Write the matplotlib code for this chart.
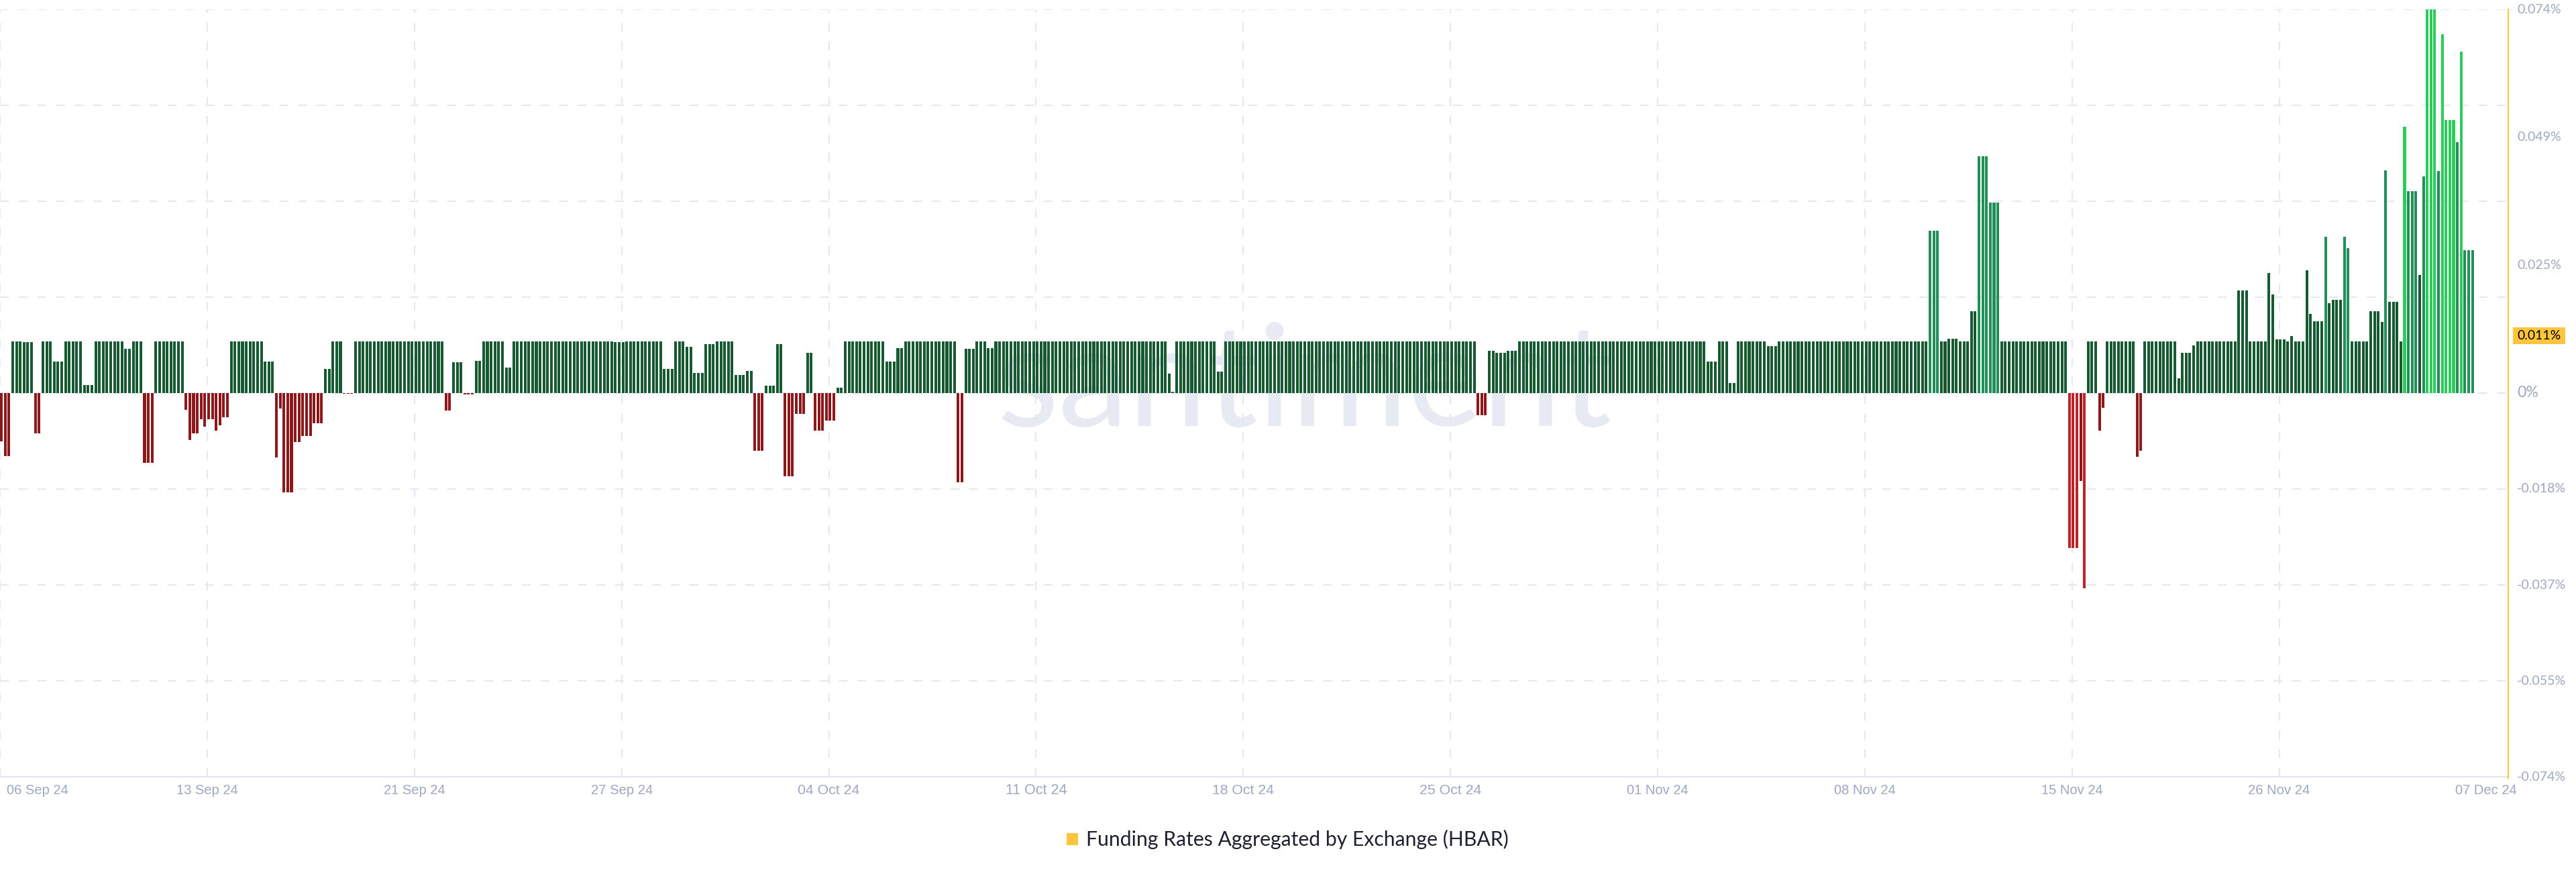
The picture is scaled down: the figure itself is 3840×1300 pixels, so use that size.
import matplotlib
matplotlib.use("Agg")
import matplotlib.pyplot as plt
from matplotlib import font_manager
from matplotlib.patches import Rectangle
from matplotlib.lines import Line2D
import numpy as np

# ------------------------------------------------------------------ data
series_name = "Funding Rates Aggregated by Exchange (HBAR)"
x_tick_labels = ["06 Sep 24", "13 Sep 24", "21 Sep 24", "27 Sep 24", "04 Oct 24",
                 "11 Oct 24", "18 Oct 24", "25 Oct 24", "01 Nov 24", "08 Nov 24",
                 "15 Nov 24", "26 Nov 24", "07 Dec 24"]
y_tick_labels = ["0.074%", "0.049%", "0.025%", "0%", "-0.018%", "-0.037%", "-0.055%", "-0.074%"]
y_tick_values = [0.074, 0.0493, 0.0247, 0.0, -0.0185, -0.037, -0.0555, -0.074]
latest_label = "0.011%"
latest_value = 0.011

# funding rate (%) per interval, left to right
rates_seg01 = [
    -0.0093, -0.0121, -0.0121, 0.0100, 0.0100, 0.0100, 0.0098, 0.0098, 0.0098, -0.0077,
    -0.0077, 0.0100, 0.0100, 0.0100, 0.0061, 0.0061, 0.0061, 0.0100, 0.0100, 0.0100,
    0.0100, 0.0100, 0.0015, 0.0015, 0.0015, 0.0100, 0.0100, 0.0100, 0.0100, 0.0100,
    0.0100, 0.0100, 0.0100, 0.0086, 0.0086, 0.0100, 0.0100, 0.0100, -0.0134, -0.0134,
    -0.0134, 0.0100, 0.0100, 0.0100, 0.0100, 0.0100, 0.0100, 0.0100, 0.0100, -0.0032,
    -0.0090, -0.0077, -0.0077, -0.0051, -0.0065]
rates_seg02 = [
    -0.0051, -0.0051, -0.0072, -0.0062, -0.0047, -0.0047, 0.0100, 0.0100, 0.0100, 0.0100,
    0.0100, 0.0100, 0.0100, 0.0100, 0.0100, 0.0061, 0.0061, 0.0061, -0.0124, -0.0030,
    -0.0191, -0.0191, -0.0191, -0.0094, -0.0094, -0.0083, -0.0083, -0.0083, -0.0058, -0.0058,
    -0.0058, 0.0047, 0.0047, 0.0100, 0.0100, 0.0100, -0.0001, -0.0001, -0.0001, 0.0100,
    0.0100, 0.0100, 0.0100, 0.0100, 0.0100, 0.0100, 0.0100, 0.0100, 0.0100, 0.0100,
    0.0100, 0.0100, 0.0100, 0.0100, 0.0100]
rates_seg03 = [
    0.0100, 0.0100, 0.0100, 0.0100, 0.0100, 0.0100, 0.0100, 0.0100, -0.0033, -0.0033,
    0.0060, 0.0060, 0.0060, -0.0003, -0.0003, -0.0003, 0.0062, 0.0062, 0.0100, 0.0100,
    0.0100, 0.0100, 0.0100, 0.0100, 0.0049, 0.0049, 0.0100, 0.0100, 0.0100, 0.0100,
    0.0100, 0.0100, 0.0100, 0.0100, 0.0100, 0.0100, 0.0100, 0.0100, 0.0100, 0.0100,
    0.0100, 0.0100, 0.0100, 0.0100, 0.0100, 0.0100, 0.0100, 0.0100, 0.0100, 0.0100,
    0.0100, 0.0100, 0.0100, 0.0098, 0.0098]
rates_seg04 = [
    0.0098, 0.0100, 0.0100, 0.0100, 0.0100, 0.0100, 0.0100, 0.0100, 0.0100, 0.0100,
    0.0100, 0.0047, 0.0047, 0.0047, 0.0100, 0.0100, 0.0100, 0.0089, 0.0089, 0.0039,
    0.0039, 0.0039, 0.0095, 0.0095, 0.0095, 0.0100, 0.0100, 0.0100, 0.0100, 0.0100,
    0.0035, 0.0035, 0.0035, 0.0043, 0.0043, -0.0111, -0.0111, -0.0111, 0.0014, 0.0014,
    0.0014, 0.0094, 0.0094, -0.0160, -0.0160, -0.0160, -0.0040, -0.0040, -0.0040, 0.0077,
    0.0077, -0.0073, -0.0073, -0.0073, -0.0053]
rates_seg05 = [
    -0.0053, -0.0053, 0.0010, 0.0010, 0.0100, 0.0100, 0.0100, 0.0099, 0.0099, 0.0099,
    0.0100, 0.0100, 0.0100, 0.0100, 0.0100, 0.0061, 0.0061, 0.0061, 0.0087, 0.0087,
    0.0100, 0.0100, 0.0100, 0.0100, 0.0100, 0.0100, 0.0100, 0.0100, 0.0100, 0.0100,
    0.0100, 0.0100, 0.0100, 0.0100, -0.0172, -0.0172, 0.0085, 0.0085, 0.0085, 0.0100,
    0.0100, 0.0100, 0.0087, 0.0087, 0.0100, 0.0100, 0.0100, 0.0100, 0.0100, 0.0100,
    0.0100, 0.0100, 0.0100, 0.0100, 0.0100]
rates_seg06 = [
    0.0100, 0.0100, 0.0100, 0.0100, 0.0100, 0.0100, 0.0100, 0.0100, 0.0100, 0.0100,
    0.0100, 0.0100, 0.0100, 0.0100, 0.0100, 0.0100, 0.0100, 0.0100, 0.0100, 0.0100,
    0.0100, 0.0100, 0.0100, 0.0100, 0.0100, 0.0100, 0.0100, 0.0100, 0.0100, 0.0100,
    0.0100, 0.0100, 0.0100, 0.0100, 0.0100, 0.0037, 0.0002, 0.0100, 0.0100, 0.0100,
    0.0100, 0.0100, 0.0100, 0.0100, 0.0100, 0.0099, 0.0099, 0.0099, 0.0041, 0.0041,
    0.0100, 0.0100, 0.0100, 0.0100, 0.0100]
rates_seg07 = [
    0.0100, 0.0100, 0.0100, 0.0100, 0.0100, 0.0100, 0.0100, 0.0100, 0.0100, 0.0100,
    0.0100, 0.0100, 0.0100, 0.0100, 0.0100, 0.0100, 0.0100, 0.0100, 0.0100, 0.0100,
    0.0100, 0.0100, 0.0100, 0.0100, 0.0100, 0.0100, 0.0100, 0.0100, 0.0100, 0.0100,
    0.0100, 0.0100, 0.0100, 0.0100, 0.0100, 0.0100, 0.0100, 0.0100, 0.0100, 0.0100,
    0.0100, 0.0100, 0.0100, 0.0100, 0.0100, 0.0100, 0.0100, 0.0100, 0.0100, 0.0100,
    0.0100, 0.0100, 0.0100, 0.0100, 0.0100]
rates_seg08 = [
    0.0100, 0.0100, 0.0100, 0.0100, 0.0100, 0.0100, 0.0100, -0.0043, -0.0043, -0.0043,
    0.0081, 0.0081, 0.0077, 0.0077, 0.0077, 0.0081, 0.0081, 0.0081, 0.0100, 0.0100,
    0.0100, 0.0100, 0.0100, 0.0100, 0.0100, 0.0100, 0.0100, 0.0100, 0.0100, 0.0100,
    0.0100, 0.0100, 0.0100, 0.0100, 0.0100, 0.0100, 0.0100, 0.0100, 0.0100, 0.0100,
    0.0100, 0.0100, 0.0100, 0.0100, 0.0100, 0.0100, 0.0100, 0.0100, 0.0100, 0.0100,
    0.0100, 0.0100, 0.0100, 0.0100, 0.0100]
rates_seg09 = [
    0.0100, 0.0100, 0.0100, 0.0100, 0.0100, 0.0100, 0.0100, 0.0100, 0.0100, 0.0100,
    0.0100, 0.0100, 0.0100, 0.0061, 0.0061, 0.0061, 0.0100, 0.0100, 0.0100, 0.0019,
    0.0019, 0.0100, 0.0100, 0.0100, 0.0100, 0.0100, 0.0100, 0.0100, 0.0100, 0.0090,
    0.0090, 0.0090, 0.0100, 0.0100, 0.0100, 0.0100, 0.0100, 0.0100, 0.0100, 0.0100,
    0.0100, 0.0100, 0.0100, 0.0100, 0.0100, 0.0100, 0.0100, 0.0100, 0.0100, 0.0100,
    0.0100, 0.0100, 0.0100, 0.0100, 0.0100]
rates_seg10 = [
    0.0100, 0.0100, 0.0100, 0.0100, 0.0100, 0.0100, 0.0100, 0.0100, 0.0100, 0.0100,
    0.0100, 0.0100, 0.0100, 0.0100, 0.0100, 0.0100, 0.0100, 0.0313, 0.0313, 0.0313,
    0.0100, 0.0100, 0.0105, 0.0105, 0.0105, 0.0100, 0.0100, 0.0100, 0.0158, 0.0158,
    0.0457, 0.0457, 0.0457, 0.0367, 0.0367, 0.0367, 0.0100, 0.0100, 0.0100, 0.0100,
    0.0100, 0.0100, 0.0100, 0.0100, 0.0100, 0.0100, 0.0100, 0.0100, 0.0100, 0.0100,
    0.0100, 0.0100, 0.0100, 0.0100, -0.0299]
rates_seg11 = [
    -0.0299, -0.0299, -0.0169, -0.0376, 0.0100, 0.0100, 0.0100, -0.0073, -0.0028, 0.0100,
    0.0100, 0.0100, 0.0100, 0.0100, 0.0100, 0.0100, 0.0100, -0.0123, -0.0111, 0.0100,
    0.0100, 0.0100, 0.0100, 0.0100, 0.0100, 0.0100, 0.0100, 0.0100, 0.0029, 0.0077,
    0.0077, 0.0077, 0.0092, 0.0100, 0.0100, 0.0100, 0.0100, 0.0100, 0.0100, 0.0100,
    0.0100, 0.0100, 0.0100, 0.0100, 0.0198, 0.0198, 0.0198, 0.0100, 0.0100, 0.0100,
    0.0100, 0.0100, 0.0231, 0.0190, 0.0103]
rates_seg12 = [
    0.0103, 0.0103, 0.0100, 0.0110, 0.0100, 0.0100, 0.0100, 0.0237, 0.0153, 0.0139,
    0.0139, 0.0139, 0.0301, 0.0174, 0.0180, 0.0180, 0.0180, 0.0301, 0.0279, 0.0100,
    0.0100, 0.0100, 0.0100, 0.0100, 0.0158, 0.0158, 0.0158, 0.0137, 0.0429, 0.0176,
    0.0176, 0.0176, 0.0100, 0.0513, 0.0390, 0.0390, 0.0390, 0.0228, 0.0418, 0.0740,
    0.0740, 0.0740, 0.0428, 0.0692, 0.0526, 0.0526, 0.0526, 0.0484, 0.0658, 0.0275,
    0.0275, 0.0275]

funding_rate = np.array(rates_seg01 + rates_seg02 + rates_seg03 + rates_seg04 +
                        rates_seg05 + rates_seg06 + rates_seg07 + rates_seg08 +
                        rates_seg09 + rates_seg10 + rates_seg11 + rates_seg12)

# ------------------------------------------------------------------ style
W, H, DPI = 3840, 1300, 100
C_DARK_GREEN = "#175a32"
C_MID_GREEN = "#218f58"
C_BRIGHT_GREEN = "#2ccb5b"
C_DARK_RED = "#8c181b"
C_BRIGHT_RED = "#bd2429"
C_GRID = "#e6e8f1"
C_AXIS = "#e2e4ee"
C_YELLOW = "#ffc63d"
C_TICK = "#9ea8c2"
C_TEXT = "#1e2130"
C_WATERMARK = "#e7e9f3"

plt.rcParams["lines.scale_dashes"] = False


def has_font(name):
    try:
        font_manager.findfont(font_manager.FontProperties(family=name),
                              fallback_to_default=False)
        return True
    except Exception:
        return False


F_LABEL = "Lato" if has_font("Lato") else "DejaVu Sans"
F_XTICK = "Liberation Sans" if has_font("Liberation Sans") else "DejaVu Sans"
F_MARK = "Lato" if has_font("Lato") else "DejaVu Sans"

# pixel geometry of the plotting area
AX_L, AX_R, AX_T, AX_B = 0.0, 3739.0, 14.0, 1158.0
BAR_X0, BAR_PITCH = 2.15, 5.615          # pixel centre of first bar, bar pitch
GRID_X0, GRID_STEP = 0.14, 308.86         # pixel x of vertical grid lines


def fx(px):
    return px / W


def fy(py):
    return 1.0 - py / H


def px_to_idx(px):
    return (px - BAR_X0) / BAR_PITCH


fig = plt.figure(figsize=(W / DPI, H / DPI), dpi=DPI)
fig.patch.set_facecolor("white")
ax = fig.add_axes([fx(AX_L), fy(AX_B), fx(AX_R - AX_L), (AX_B - AX_T) / H])
ax.set_facecolor("none")
ax.set_xlim(px_to_idx(AX_L), px_to_idx(AX_R))
ax.set_ylim(-0.074, 0.074)
for s in ax.spines.values():
    s.set_visible(False)
ax.set_xticks([])
ax.set_yticks([])

renderer = fig.canvas.get_renderer()


def fitted_text(x, y, s, width_px, family, holder=None, **kw):
    if holder is None:
        t = fig.text(x, y, s, fontsize=20, family=family, **kw)
    else:
        t = holder.text(x, y, s, fontsize=20, family=family,
                        transform=fig.transFigure, **kw)
    w = t.get_window_extent(renderer).width
    t.set_fontsize(20 * width_px / w)
    return t


# watermark (behind the bars)
fitted_text(fx(1945), fy(635), "santiment", 920, F_MARK, holder=ax, color=C_WATERMARK,
            ha="center", va="baseline", zorder=0, fontweight="normal", clip_on=False)

# grid lines
for v in [0.074, 0.0555, 0.037, 0.0185, 0.0, -0.0185, -0.037, -0.0555]:
    ax.axhline(v, color=C_GRID, lw=1.5, linestyle=(0, (9.5, 10.5)), zorder=1)
grid_px = [GRID_X0 + GRID_STEP * m for m in range(12)]
for gp in grid_px:
    ax.axvline(px_to_idx(gp), color=C_GRID, lw=1.5, linestyle=(0, (9.5, 10.5)), zorder=1)

# bars
idx = np.arange(len(funding_rate))
colors = []
for v in funding_rate:
    if v >= 0.05:
        colors.append(C_BRIGHT_GREEN)
    elif v >= 0.025:
        colors.append(C_MID_GREEN)
    elif v >= 0:
        colors.append(C_DARK_GREEN)
    elif v > -0.025:
        colors.append(C_DARK_RED)
    else:
        colors.append(C_BRIGHT_RED)
ax.bar(idx, funding_rate, width=0.72, color=colors, linewidth=0, zorder=3)

# bottom axis line and right yellow axis line
fig.add_artist(Line2D([fx(AX_L), fx(AX_R)], [fy(AX_B), fy(AX_B)], color=C_AXIS, lw=1.5))
fig.add_artist(Line2D([fx(AX_R), fx(AX_R)], [fy(AX_T), fy(AX_B + 2)], color=C_YELLOW, lw=1.5))

# x tick labels
xlab_px = grid_px + [3706.0]
for i, (lab, gp) in enumerate(zip(x_tick_labels, xlab_px)):
    if i == 0:
        fitted_text(fx(10), fy(1179), lab, 92, F_XTICK, color=C_TICK, ha="left", va="center")
    else:
        fitted_text(fx(gp), fy(1179), lab, 92, F_XTICK, color=C_TICK, ha="center", va="center")


def val_to_py(v):
    return AX_T + (0.074 - v) / 0.148 * (AX_B - AX_T)


# y tick labels (right side)
for lab, v in zip(y_tick_labels, y_tick_values):
    target = 66 * len(lab.replace("-", "")) / 6.0 + (7 if lab.startswith("-") else 0)
    if lab == "0%":
        target = 32
    fitted_text(fx(3752), fy(val_to_py(v)), lab, target, F_LABEL, color=C_TICK,
                ha="left", va="center")

# latest value marker
py = val_to_py(latest_value)
fig.add_artist(Rectangle((fx(3746), fy(py + 12.5)), fx(78), 25 / H,
                         facecolor=C_YELLOW, edgecolor="none"))
fitted_text(fx(3752), fy(py), latest_label, 65, F_LABEL, color="black",
            ha="left", va="center")

# legend
fig.add_artist(Rectangle((fx(1590), fy(1260)), fx(17), 18 / H,
                         facecolor=C_YELLOW, edgecolor="none"))
fitted_text(fx(1619), fy(1251), series_name, 629, F_LABEL, color=C_TEXT,
            ha="left", va="center")

fig.savefig("out.png", dpi=DPI, facecolor="white")
